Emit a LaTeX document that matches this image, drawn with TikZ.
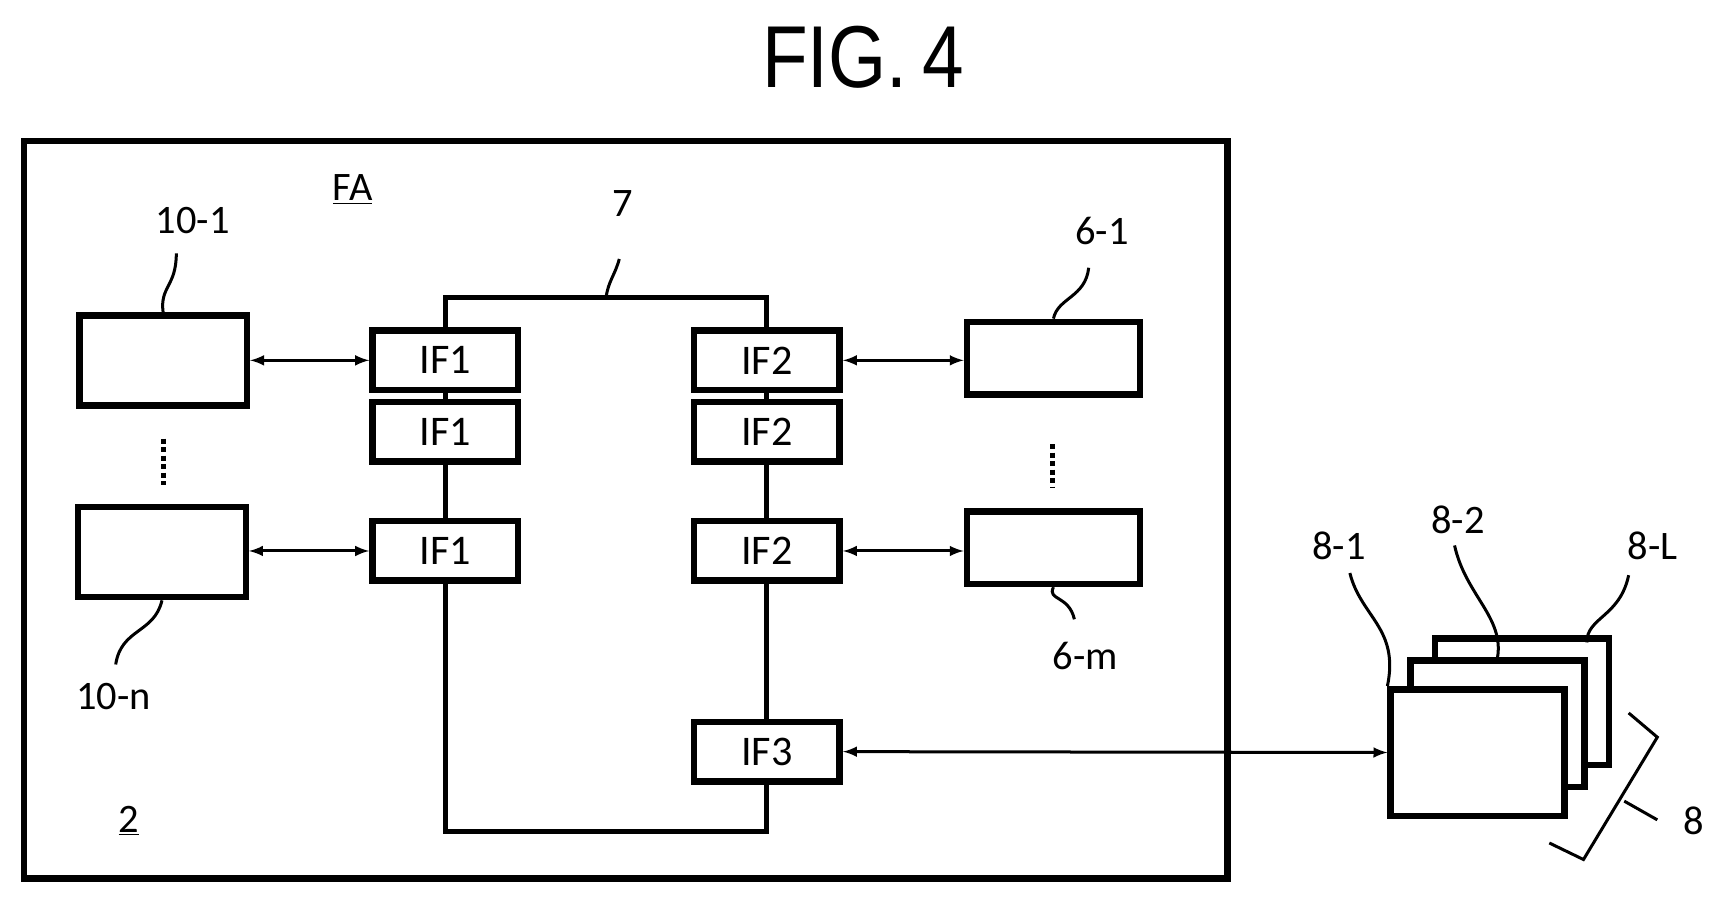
\documentclass[tikz,border=0pt]{standalone}
\usepackage{fontspec}
\setmainfont{Carlito}
\newfontfamily\titlefont{Liberation Sans}[FakeStretch=0.85]
\begin{document}
\begin{tikzpicture}[x=0.02204cm, y=-0.02204cm,
  every path/.style={draw=black, line width=.1cm},
  box/.style={draw=black, rectangle, line width=.13cm, fill=white, inner sep=0pt},
  unit/.style={box, minimum width=3.35cm, minimum height=1.8cm},
  dev/.style={box, minimum width=3.46cm, minimum height=1.45cm},
  ifc/.style={box, minimum width=2.91cm, minimum height=1.19cm, font=\fontsize{24}{24}\selectfont},
  card/.style={box, minimum width=3.48cm, minimum height=2.53cm},
  lbl/.style={font=\fontsize{23}{23}\selectfont},
  lead/.style={line width=.06cm},
  link/.style={line width=.06cm, <->, >=latex}]
\path[draw=none, use as bounding box] (0,0) rectangle (1560,814);
\node[font=\titlefont\fontsize{50}{50}\selectfont] (title) at (783,52) {FIG.\,4};
\draw[line width=.13cm] (22,128) rectangle (1114,797);
\node[lbl] (fa) at (320,172) {\underline{FA}};
\node[lbl] (two) at (117,745) {\underline{2}};
% units 10
\node[unit] (u1) at (148,327) {};
\node[unit] (un) at (147,501) {};
\node[lbl] (u1l) at (175,200) {10-1};
\node[lbl] (unl) at (103,632) {10-n};
\draw[lead] (160,230) .. controls (160,260) and (145,260) .. (u1.north);
\draw[lead] (105,603) .. controls (110,570) and (140,575) .. (un.south);
\draw[line width=.1cm, dotted] (148,398) -- (148,440);
% interfaces
\node[ifc] (a1) at (404,327) {IF1};
\node[ifc] (a2) at (404,392) {IF1};
\node[ifc] (a3) at (404,500) {IF1};
\node[ifc] (b1) at (696,327) {IF2};
\node[ifc] (b2) at (696,392) {IF2};
\node[ifc] (b3) at (696,500) {IF2};
\node[ifc] (b4) at (696,682) {IF3};
% bus 7
\coordinate (bus) at (550,270);
\draw (a1.north) |- (bus) -| (b1.north);
\draw (a1) -- (a2) -- (a3);
\draw (b1) -- (b2) -- (b3) -- (b4);
\draw (a3.south) |- (550,755) -| (b4.south);
\node[lbl] (busl) at (565,185) {7};
\draw[lead] (562,235) .. controls (558,250) and (552,255) .. (bus);
% devices 6
\node[dev] (d1) at (956,325) {};
\node[dev] (dm) at (956,497) {};
\node[lbl] (d1l) at (1000,210) {6-1};
\node[lbl] (dml) at (985,595) {6-m};
\draw[lead] (988,243) .. controls (985,270) and (960,270) .. (d1.north);
\draw[lead] (975,562) .. controls (970,540) and (950,545) .. (dm.south);
\draw[line width=.1cm, dotted] (955,403) -- (955,442);
% links
\draw[link] (u1) -- (a1);
\draw[link] (un.east |- a3) -- (a3);
\draw[link] (b1) -- (d1.west |- b1);
\draw[link] (b3) -- (dm.west |- b3);
% cards 8
\node[card] (c3) at (1381,637) {};
\node[card] (c2) at (1359,657) {};
\node[card] (c1) at (1341,683) {};
\draw[link] (b4) -- (c1);
\node[lbl] (c1l) at (1215,495) {8-1};
\node[lbl] (c2l) at (1323,472) {8-2};
\node[lbl] (c3l) at (1500,495) {8-L};
\node[lbl] (cl) at (1537,745) {8};
\draw[lead] (1225,520) .. controls (1235,560) and (1270,570) .. (c1.north west);
\draw[lead] (1320,495) .. controls (1330,540) and (1365,560) .. (c2.north);
\draw[lead] (1478,522) .. controls (1470,560) and (1440,560) .. (1440,583);
\draw[lead] (1406,765) -- (1437,780) -- (1504,669) -- (1478,647);
\draw[lead] (1474,727) -- (1504,744);
\end{tikzpicture}
\end{document}
